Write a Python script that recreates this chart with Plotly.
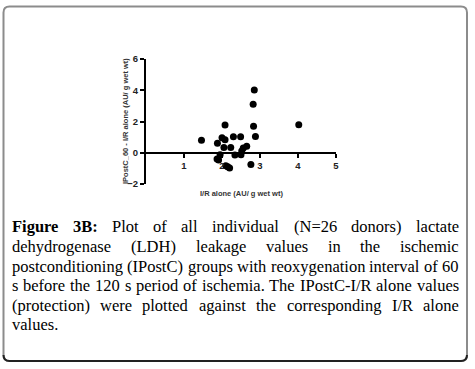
import plotly.graph_objects as go

# ---------------- data ----------------
ir_alone = [1.46, 1.88, 2.00, 2.08, 2.08, 2.05, 2.23, 2.30, 2.49, 2.88, 2.83, 2.82, 2.85,
            4.02, 2.65, 2.56, 2.52, 2.34, 2.50, 1.95, 1.87, 1.91, 2.10, 2.20, 2.76, 2.15]
protection = [0.80, 0.61, 0.96, 0.83, 1.78, 0.33, 0.33, 1.02, 1.02, 1.04, 1.70, 3.10, 4.02,
              1.80, 0.42, 0.30, 0.12, -0.14, -0.13, -0.12, -0.40, -0.47, -0.83, -0.97, -0.75, -0.90]
x_ticks = [1, 2, 3, 4, 5]
y_ticks = [-2, 0, 2, 4, 6]
x_title = "I/R alone (AU/ g wet wt)"
y_title = "IPostC_60 - I/R alone (AU/ g wet wt)"
caption_lines = [
    "Figure 3B: Plot of all individual (N=26 donors) lactate",
    "dehydrogenase (LDH) leakage values in the ischemic",
    "postconditioning (IPostC) groups with reoxygenation interval of 60",
    "s before the 120 s period of ischemia. The IPostC-I/R alone values",
    "(protection) were plotted against the corresponding I/R alone",
    "values.",
]
bold_words = 2  # "Figure 3B:"

# ---------------- geometry ----------------
W, H = 475, 369
PL, PR, PT, PB = 146, 336, 59, 184


def px(x):
    return (x - PL) / (PR - PL)


def py(y):
    return (PB - y) / (PB - PT)


fig = go.Figure()
fig.add_trace(go.Scatter(
    x=ir_alone, y=protection, mode="markers",
    marker=dict(color="black", size=7, line=dict(width=0)),
    cliponaxis=False, showlegend=False,
))

tick_font = dict(family="Liberation Sans, Arial", size=9.5, color="#222", weight="bold")
fig.update_layout(
    width=W, height=H,
    margin=dict(l=PL, r=W - PR, t=PT, b=H - PB, pad=0),
    paper_bgcolor="white", plot_bgcolor="white",
    xaxis=dict(range=[0, 5], tickvals=x_ticks, showgrid=False, zeroline=False,
               showline=True, linecolor="black", linewidth=2,
               ticks="outside", ticklen=4, tickwidth=2, tickcolor="black",
               anchor="free", position=py(153), tickfont=tick_font),
    yaxis=dict(range=[-2, 6], tickvals=y_ticks, showgrid=False, zeroline=False,
               showline=True, linecolor="black", linewidth=2,
               ticks="outside", ticklen=4, tickwidth=2, tickcolor="black",
               tickfont=tick_font),
)

title_font = dict(family="Liberation Sans, Arial", size=7.5, color="#333", weight="bold")
annotations = [
    dict(text=x_title, x=px(241), y=py(193), xref="paper", yref="paper",
         showarrow=False, xanchor="center", yanchor="middle", font=title_font),
    dict(text=y_title, x=px(125), y=py(121), xref="paper", yref="paper",
         showarrow=False, xanchor="center", yanchor="middle", textangle=-90, font=title_font),
]

# ---------------- justified caption ----------------
REG = {' ': 250, '(': 333, ')': 333, '=': 564, ':': 278, '.': 250, '-': 333, '/': 278, ',': 250,
       'a': 444, 'b': 500, 'c': 444, 'd': 500, 'e': 444, 'f': 333, 'g': 500, 'h': 500, 'i': 278,
       'j': 278, 'k': 500, 'l': 278, 'm': 778, 'n': 500, 'o': 500, 'p': 500, 'q': 500, 'r': 333,
       's': 389, 't': 278, 'u': 500, 'v': 500, 'w': 722, 'x': 500, 'y': 500, 'z': 444,
       'A': 722, 'B': 667, 'C': 667, 'D': 722, 'E': 611, 'F': 556, 'G': 722, 'H': 722, 'I': 333,
       'L': 611, 'N': 722, 'P': 556, 'R': 667, 'T': 611, 'U': 722}
BOLD = {'F': 611, 'i': 278, 'g': 500, 'u': 556, 'r': 444, 'e': 444, '3': 500, 'B': 667, ':': 333}
FS = 16.5
CAP_L, CAP_R = 12, 459
baselines_mid = [226, 246, 266, 285, 305, 324]


def wword(word, bold):
    tab = BOLD if bold else REG
    return sum(tab.get(c, REG.get(c, 500)) for c in word) / 1000 * FS


cap_font = dict(family="Liberation Serif, Times New Roman", size=FS, color="black")
for li, line in enumerate(caption_lines):
    words = line.split(" ")
    bolds = [li == 0 and wi < bold_words for wi in range(len(words))]
    widths = [wword(w, b) for w, b in zip(words, bolds)]
    last = li == len(caption_lines) - 1
    if last or len(words) == 1:
        gap = REG[' '] / 1000 * FS
    else:
        gap = (CAP_R - CAP_L - sum(widths)) / (len(words) - 1)
    x = CAP_L
    for w, b, wd in zip(words, bolds, widths):
        f = dict(cap_font)
        if b:
            f["weight"] = "bold"
        annotations.append(dict(text=w, x=px(x + wd / 2), y=py(baselines_mid[li]),
                                xref="paper", yref="paper", showarrow=False,
                                xanchor="center", yanchor="middle", font=f))
        x += wd + gap

fig.update_layout(annotations=annotations)

# ---------------- rounded frame ----------------
L, R, T, B, r = 3.5, 467, 6.5, 361, 6


def P(x, y):
    return f"{px(x):.5f},{py(y):.5f}"


frame = (f"M {P(L, T + r)} Q {P(L, T)} {P(L + r, T)} L {P(R - r, T)} Q {P(R, T)} {P(R, T + r)} "
         f"L {P(R, B - r)} Q {P(R, B)} {P(R - r, B)} L {P(L + r, B)} Q {P(L, B)} {P(L, B - r)} Z")
bottom = f"M {P(L, B - r)} Q {P(L, B)} {P(L + r, B)} L {P(R - r, B)} Q {P(R, B)} {P(R, B - r)}"
fig.update_layout(shapes=[
    dict(type="path", path=frame, xref="paper", yref="paper", line=dict(color="#8c8c8c", width=2)),
    dict(type="path", path=bottom, xref="paper", yref="paper", line=dict(color="#222", width=2)),
])

fig.write_html("out.html", config={"displayModeBar": False},
               post_script="document.body.style.margin='0px';")
